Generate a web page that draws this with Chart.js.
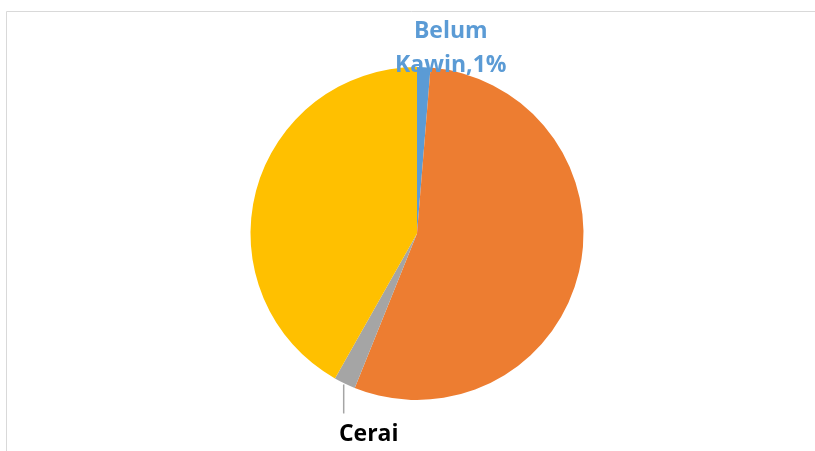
<!DOCTYPE html>
<html>
<head>
<meta charset="utf-8">
<script src="https://cdn.jsdelivr.net/npm/chart.js@4"></script>
<style>
  html, body { margin: 0; padding: 0; background: #fff; }
  #wrap { width: 815px; height: 451px; position: relative; }
</style>
</head>
<body>
<div id="wrap"><canvas id="c" width="815" height="451"></canvas></div>
<script>
const categories = ["Belum Kawin", "Kawin", "Cerai", "Cerai Mati"];
const values = [1.3, 54.8, 2.1, 41.8];
const displayedLabels = ["Belum\nKawin,1%", null, "Cerai", null];
const colors = ["#5B9BD5", "#ED7D31", "#A5A5A5", "#FFC000"];
const labelColors = ["#5B9BD5", null, "#000000", null];

const frame = {
  id: 'frame',
  beforeDraw(chart) {
    const ctx = chart.ctx;
    ctx.save();
    ctx.fillStyle = '#fff';
    ctx.fillRect(0, 0, chart.width, chart.height);
    ctx.strokeStyle = '#D9D9D9';
    ctx.lineWidth = 1;
    ctx.beginPath();
    ctx.moveTo(6.5, 460);
    ctx.lineTo(6.5, 11.5);
    ctx.lineTo(820, 11.5);
    ctx.stroke();
    ctx.restore();
  }
};

const labelsPlugin = {
  id: 'sliceLabels',
  afterDatasetsDraw(chart) {
    const ctx = chart.ctx;
    const meta = chart.getDatasetMeta(0);
    ctx.save();
    ctx.font = 'bold 23px "Open Sans"';
    ctx.textAlign = 'center';
    ctx.textBaseline = 'alphabetic';
    meta.data.forEach((arc, i) => {
      const txt = displayedLabels[i];
      if (!txt) return;
      const p = arc.getProps(['x', 'y', 'startAngle', 'endAngle', 'outerRadius'], true);
      const mid = (p.startAngle + p.endAngle) / 2;
      const ex = p.x + Math.cos(mid) * p.outerRadius;
      const ey = p.y + Math.sin(mid) * p.outerRadius;
      ctx.fillStyle = labelColors[i];
      if (i === 0) {
        const lines = txt.split('\n');
        ctx.fillText(lines[0], ex + 27, ey - 29);
        ctx.fillText(lines[1], ex + 27, ey + 5);
      } else {
        ctx.strokeStyle = '#A5A5A5';
        ctx.lineWidth = 1.5;
        ctx.beginPath();
        ctx.moveTo(ex - 1, ey + 1);
        ctx.lineTo(ex - 1, ey + 30);
        ctx.stroke();
        ctx.fillText(txt, ex + 24, ey + 58);
      }
    });
    ctx.restore();
  }
};

new Chart(document.getElementById('c'), {
  type: 'pie',
  data: {
    labels: categories,
    datasets: [{
      data: values,
      backgroundColor: colors,
      borderWidth: 0
    }]
  },
  options: {
    responsive: false,
    animation: false,
    layout: { padding: { left: 19, right: 0, top: 67, bottom: 51 } },
    plugins: {
      legend: { display: false },
      tooltip: { enabled: false }
    }
  },
  plugins: [frame, labelsPlugin]
});
</script>
</body>
</html>
